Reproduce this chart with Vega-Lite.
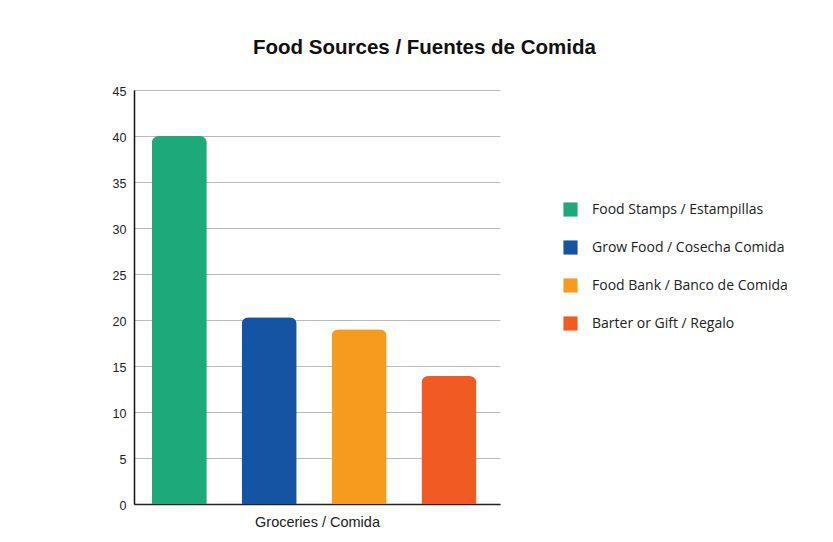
{
  "$schema": "https://vega.github.io/schema/vega-lite/v6.json",
  "autosize": "none",
  "width": 366,
  "height": 414,
  "padding": {"left": 134, "top": 90, "right": 333, "bottom": 38},
  "background": "white",
  "title": {
    "text": "Food Sources / Fuentes de Comida",
    "font": "Liberation Sans",
    "fontSize": 20.5,
    "fontWeight": "bold",
    "color": "#111",
    "anchor": "start",
    "frame": "group",
    "dx": 119,
    "offset": 27
  },
  "data": {
    "values": [
      {"source": "Food Stamps / Estampillas", "value": 40},
      {"source": "Grow Food / Cosecha Comida", "value": 20.3},
      {"source": "Food Bank / Banco de Comida", "value": 19},
      {"source": "Barter or Gift / Regalo", "value": 13.9}
    ]
  },
  "mark": {"type": "bar", "cornerRadiusTopLeft": 7, "cornerRadiusTopRight": 7},
  "encoding": {
    "x": {
      "field": "source",
      "type": "nominal",
      "sort": null,
      "scale": {"paddingInner": 0.388, "paddingOuter": 0.23, "align": 0.43},
      "axis": {
        "title": "Groceries / Comida",
        "labels": false,
        "ticks": false,
        "domainColor": "#222",
        "domainWidth": 1.5,
        "titleFont": "Liberation Sans",
        "titleFontSize": 14.5,
        "titleFontWeight": "normal",
        "titleColor": "#222",
        "titlePadding": 11
      }
    },
    "y": {
      "field": "value",
      "type": "quantitative",
      "scale": {"domain": [0, 45], "nice": false},
      "axis": {
        "title": null,
        "values": [0, 5, 10, 15, 20, 25, 30, 35, 40, 45],
        "ticks": false,
        "labelPadding": 8,
        "labelOffset": 1.5,
        "labelFont": "Liberation Sans",
        "labelFontSize": 12.5,
        "labelColor": "#222",
        "domainColor": "#111",
        "domainWidth": 1.5,
        "gridColor": "#bbbbbb",
        "gridWidth": 1
      }
    },
    "color": {
      "field": "source",
      "type": "nominal",
      "sort": null,
      "scale": {
        "domain": ["Food Stamps / Estampillas", "Grow Food / Cosecha Comida", "Food Bank / Banco de Comida", "Barter or Gift / Regalo"],
        "range": ["#1ea97a", "#1553a3", "#f79b1f", "#f15a22"]
      },
      "legend": {
        "title": null,
        "orient": "none",
        "legendX": 429,
        "legendY": 112,
        "symbolType": "square",
        "symbolSize": 200,
        "symbolStrokeWidth": 0,
        "labelFont": "Open Sans",
        "labelFontSize": 14,
        "labelColor": "#222",
        "labelOffset": 14,
        "labelLimit": 0,
        "rowPadding": 23
      }
    }
  },
  "config": {"view": {"stroke": null}}
}
